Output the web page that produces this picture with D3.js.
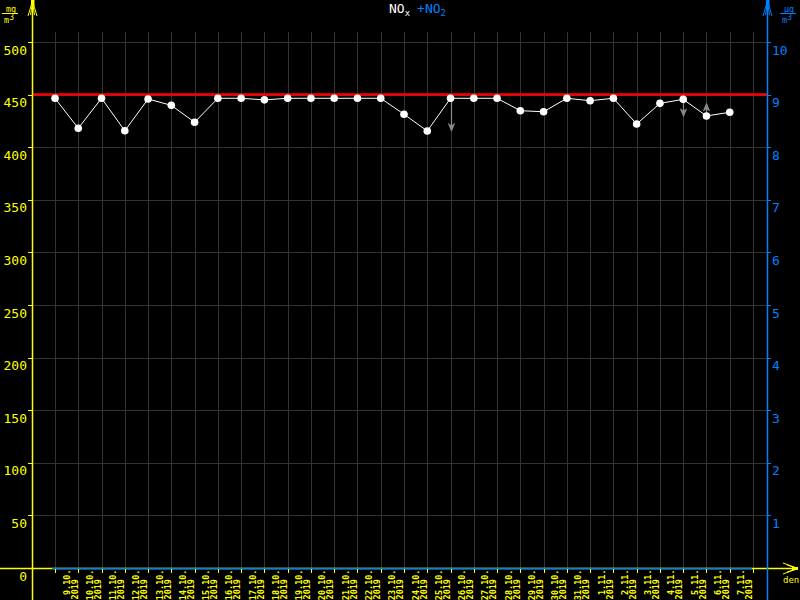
<!DOCTYPE html>
<html>
<head>
<meta charset="utf-8">
<script src="https://cdn.jsdelivr.net/npm/d3@7/dist/d3.min.js"></script>
<style>
  html, body { margin: 0; padding: 0; background: #000; }
  svg { display: block; }
  text { font-family: "DejaVu Sans Mono", monospace; }
</style>
</head>
<body>
<svg id="chart" width="800" height="600"></svg>
<script>
// ---- data ----
const dates = ["9.10.","10.10.","11.10.","12.10.","13.10.","14.10.","15.10.","16.10.","17.10.","18.10.",
  "19.10.","20.10.","21.10.","22.10.","23.10.","24.10.","25.10.","26.10.","27.10.","28.10.",
  "29.10.","30.10.","31.10.","1.11.","2.11.","3.11.","4.11.","5.11.","6.11.","7.11."];
const years = dates.map(() => "2019");
const noxValues = [446.5, 418, 446.5, 415.6, 445.8, 439.8, 423.7, 446.5, 446.5, 445,
  446.5, 446.5, 446.5, 446.5, 446.5, 431.3, 415.4, 446.5, 446.5, 446.5,
  434.7, 433.7, 446.5, 444.2, 446.5, 422, 441.7, 445.5, 429.7, 433.2];
const leftTicks = [0, 50, 100, 150, 200, 250, 300, 350, 400, 450, 500];
const rightTicks = [1, 2, 3, 4, 5, 6, 7, 8, 9, 10];
const limitValue = 450;
const arrowIndex = [17, 27, 28];
const arrowTo = [416, 430, 441];

// ---- layout ----
const W = 800, H = 600;
const YELLOW = "#ffff00", BLUE = "#0080ff", GRID = "#333333", GREY = "#8a8a8a";
const axL = 32, axR = 767, yBase = 568, gridTop = 32;

const svg = d3.select("#chart");
svg.append("rect").attr("width", W).attr("height", H).attr("fill", "#000");

const x = d3.scaleLinear().domain([0, dates.length]).range([55, 753]);
const y = d3.scaleLinear().domain([0, 500]).range([yBase, 42]);
const yR = d3.scaleLinear().domain([0, 10]).range([yBase, 42]);

// grid
const g = svg.append("g").attr("shape-rendering", "crispEdges");
g.selectAll("line.v").data(d3.range(dates.length + 1)).enter().append("line")
  .attr("x1", i => Math.round(x(i)) + 0.5).attr("x2", i => Math.round(x(i)) + 0.5)
  .attr("y1", gridTop).attr("y2", yBase)
  .attr("stroke", GRID).attr("stroke-width", 1);
g.selectAll("line.h").data(leftTicks.filter(v => v > 0)).enter().append("line")
  .attr("x1", axL).attr("x2", axR)
  .attr("y1", v => Math.round(y(v)) + 0.5).attr("y2", v => Math.round(y(v)) + 0.5)
  .attr("stroke", GRID).attr("stroke-width", 1);

// limit line
svg.append("line")
  .attr("x1", axL).attr("x2", axR)
  .attr("y1", y(limitValue)).attr("y2", y(limitValue))
  .attr("stroke", "#ff0000").attr("stroke-width", 2.5);

// data line
const line = d3.line().x((d, i) => x(i)).y(d => y(d));
svg.append("path").datum(noxValues).attr("d", line)
  .attr("fill", "none").attr("stroke", "#fff").attr("stroke-width", 1);

// grey arrows
const arrows = svg.append("g").attr("stroke", GREY).attr("stroke-width", 1.2).attr("fill", "none");
arrowIndex.forEach((idx, k) => {
  const xx = Math.round(x(idx)) + 0.5;
  const y0 = y(noxValues[idx]), y1 = y(arrowTo[k]);
  const dir = y1 > y0 ? 1 : -1;
  arrows.append("line").attr("x1", xx).attr("x2", xx).attr("y1", y0).attr("y2", y1);
  arrows.append("path").attr("d",
    `M${xx - 3},${y1 - dir * 7}L${xx},${y1}L${xx + 3},${y1 - dir * 7}` +
    `M${xx - 1.5},${y1 - dir * 6}L${xx},${y1}L${xx + 1.5},${y1 - dir * 6}`);
});

// points
svg.selectAll("circle.pt").data(noxValues).enter().append("circle")
  .attr("cx", (d, i) => x(i)).attr("cy", d => y(d)).attr("r", 3.8)
  .attr("fill", "#fff");

// ---- axes ----
// x axis base lines
svg.append("line").attr("x1", 0).attr("x2", 796).attr("y1", yBase + 0.5).attr("y2", yBase + 0.5)
  .attr("stroke", YELLOW).attr("stroke-width", 1.5);
svg.append("line").attr("x1", 52).attr("x2", 752).attr("y1", yBase + 0.5).attr("y2", yBase + 0.5)
  .attr("stroke", BLUE).attr("stroke-width", 1.5);
// x arrow
svg.append("path").attr("d", "M783,563L798,568.5L783,574M787,565L798,568.5L787,572")
  .attr("stroke", YELLOW).attr("fill", "none").attr("stroke-width", 1);
svg.append("rect").attr("x", 792).attr("y", 567).attr("width", 6).attr("height", 3).attr("fill", YELLOW);

// x ticks and labels
const xAxis = d3.axisBottom(x).tickValues(d3.range(dates.length + 1)).tickSize(4).tickFormat("");
const xg = svg.append("g").attr("transform", `translate(0,${yBase + 1})`).call(xAxis);
xg.select(".domain").remove();
xg.selectAll(".tick line").attr("stroke", YELLOW).attr("shape-rendering", "crispEdges");

const xl = svg.append("g").attr("fill", YELLOW).attr("font-size", 8.5).attr("font-weight", "bold");
dates.forEach((d, i) => {
  const bx = x(i);
  xl.append("text").attr("transform", `translate(${bx + 14.5},569.5) rotate(-90)`)
    .attr("text-anchor", "end").text(d);
  xl.append("text").attr("transform", `translate(${bx + 22.5},579) rotate(-90)`)
    .attr("text-anchor", "end").text(years[i]);
});

// left axis
svg.append("line").attr("x1", axL + 0.5).attr("x2", axL + 0.5).attr("y1", 0).attr("y2", H)
  .attr("stroke", YELLOW).attr("stroke-width", 1.5);
const yAxis = d3.axisLeft(y).tickValues(leftTicks).tickSize(4).tickPadding(5);
const yg = svg.append("g").attr("transform", `translate(${axL},0)`).call(yAxis);
yg.select(".domain").remove();
yg.selectAll(".tick line").attr("stroke", YELLOW).attr("shape-rendering", "crispEdges");
yg.selectAll(".tick text").attr("fill", YELLOW).attr("font-size", 13)
  .attr("font-family", "DejaVu Sans Mono, monospace").attr("dy", 12).attr("x", -5);

// right axis
svg.append("line").attr("x1", axR + 0.5).attr("x2", axR + 0.5).attr("y1", 0).attr("y2", H)
  .attr("stroke", BLUE).attr("stroke-width", 1.5);
const yAxisR = d3.axisRight(yR).tickValues(rightTicks).tickSize(4).tickPadding(5);
const yrg = svg.append("g").attr("transform", `translate(${axR},0)`).call(yAxisR);
yrg.select(".domain").remove();
yrg.selectAll(".tick line").attr("stroke", BLUE).attr("shape-rendering", "crispEdges");
yrg.selectAll(".tick text").attr("fill", BLUE).attr("font-size", 13)
  .attr("font-family", "DejaVu Sans Mono, monospace").attr("dy", 12).attr("x", 5);

// top arrows
function upArrow(cx, color) {
  const a = svg.append("g").attr("stroke", color).attr("fill", "none").attr("stroke-width", 1);
  a.append("path").attr("d",
    `M${cx - 4.5},16L${cx},1L${cx + 4.5},16M${cx - 2},15L${cx},2L${cx + 2},15`);
  svg.append("rect").attr("x", cx - 1.5).attr("y", 0).attr("width", 3.5).attr("height", 6).attr("fill", color);
}
upArrow(axL + 0.5, YELLOW);
upArrow(axR + 0.5, BLUE);

// units
function unit(x0, num, color) {
  const u = svg.append("g").attr("fill", color).attr("font-size", 8.5);
  u.append("text").attr("x", x0 + 9).attr("y", 12).attr("text-anchor", "middle").text(num);
  u.append("line").attr("x1", x0).attr("x2", x0 + 16).attr("y1", 13.5).attr("y2", 13.5)
    .attr("stroke", color).attr("stroke-width", 1);
  const t = u.append("text").attr("x", x0 + 2).attr("y", 23);
  t.append("tspan").text("m");
  t.append("tspan").attr("dy", -3).attr("font-size", 8).text("3");
}
unit(2, "mg", YELLOW);
unit(780, "μg", BLUE);

// title
const title = svg.append("text").attr("x", 389).attr("y", 13).attr("font-size", 13);
title.append("tspan").attr("fill", "#fff").text("NO");
title.append("tspan").attr("fill", "#fff").attr("font-size", 9).attr("dy", 3).text("x");
title.append("tspan").attr("fill", BLUE).attr("dy", -3).attr("dx", 7).text("+NO");
title.append("tspan").attr("fill", BLUE).attr("font-size", 9).attr("dy", 3).text("2");

// den
svg.append("text").attr("x", 783).attr("y", 583).attr("fill", YELLOW).attr("font-size", 9).text("den");
</script>
</body>
</html>
